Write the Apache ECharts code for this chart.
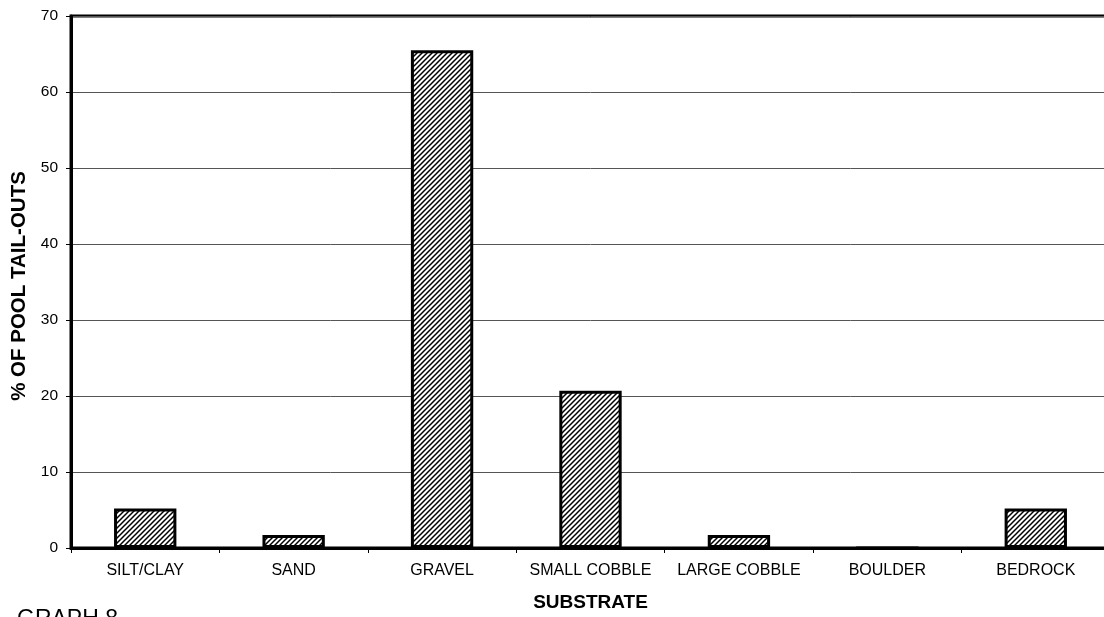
<!DOCTYPE html>
<html>
<head>
<meta charset="utf-8">
<script src="https://cdn.jsdelivr.net/npm/echarts@6/dist/echarts.min.js"></script>
<style>
  html, body { margin: 0; padding: 0; background: #fff; overflow: hidden; }
  #chart { width: 1110px; height: 617px; }
</style>
</head>
<body>
<div id="chart"></div>
<script>
// data
var categories = ['SILT/CLAY', 'SAND', 'GRAVEL', 'SMALL COBBLE', 'LARGE COBBLE', 'BOULDER', 'BEDROCK'];
var percentValues = [5.2, 1.7, 65.5, 20.7, 1.7, 0, 5.2];
var yTicks = [0, 10, 20, 30, 40, 50, 60, 70];

// diagonal hatch fill
function makeHatch() {
    var c = document.createElement('canvas');
    c.width = 5;
    c.height = 5;
    var ctx = c.getContext('2d');
    ctx.fillStyle = '#fff';
    ctx.fillRect(0, 0, 5, 5);
    ctx.strokeStyle = '#000';
    ctx.lineWidth = 1.5;
    ctx.beginPath();
    ctx.moveTo(-1, 6); ctx.lineTo(6, -1);
    ctx.moveTo(-1, 1); ctx.lineTo(1, -1);
    ctx.moveTo(4, 6); ctx.lineTo(6, 4);
    ctx.stroke();
    return c;
}

var myChart = echarts.init(document.getElementById('chart'));
var font = 'Liberation Sans, Arial, sans-serif';

var option = {
    backgroundColor: '#fff',
    animation: false,
    grid: {
        left: 71,
        top: 16,
        right: 0,
        bottom: 69,
        outerBoundsMode: 'none',
        containLabel: false,
        show: true,
        borderColor: '#000',
        borderWidth: 3
    },
    xAxis: {
        type: 'category',
        data: categories,
        name: 'SUBSTRATE',
        nameLocation: 'middle',
        nameGap: 45,
        nameTextStyle: { fontFamily: font, fontSize: 19, fontWeight: 'bold', color: '#000' },
        axisLine: { lineStyle: { color: '#000', width: 3 } },
        axisTick: { show: true, length: 5, lineStyle: { color: '#000', width: 1 } },
        axisLabel: { fontFamily: font, fontSize: 16, color: '#000', margin: 15, interval: 0 },
        splitLine: { show: false }
    },
    yAxis: {
        type: 'value',
        min: yTicks[0],
        max: yTicks[yTicks.length - 1],
        interval: 10,
        name: '% OF POOL TAIL-OUTS',
        nameLocation: 'middle',
        nameGap: 41,
        nameTextStyle: {
            fontFamily: font, fontSize: 20.5, fontWeight: 'bold', color: '#000',
            padding: [0, 8, 0, 0]
        },
        axisLine: { show: true, lineStyle: { color: '#000', width: 3 } },
        axisTick: { show: true, length: 5, lineStyle: { color: '#000', width: 1 } },
        axisLabel: { fontFamily: font, fontSize: 15.5, color: '#000', margin: 13 },
        splitLine: { show: true, lineStyle: { color: '#555', width: 1 } }
    },
    series: [{
        type: 'bar',
        data: percentValues,
        barWidth: '42%',
        itemStyle: {
            color: { image: makeHatch(), repeat: 'repeat' },
            borderColor: '#000',
            borderWidth: 3
        }
    }],
    graphic: [{
        type: 'text',
        left: 17,
        top: 608,
        style: { text: 'GRAPH 8', font: '23px ' + font, fill: '#000' }
    }]
};

myChart.setOption(option);
</script>
</body>
</html>
